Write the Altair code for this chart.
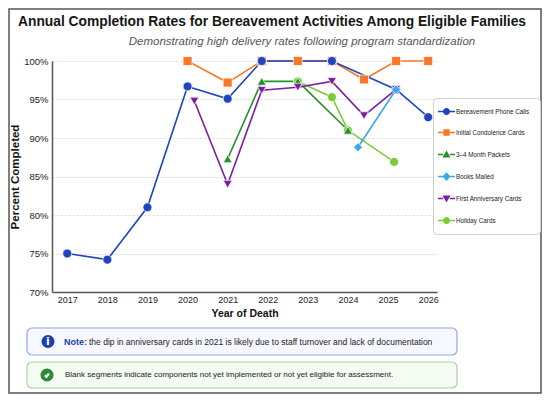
import altair as alt
import pandas as pd

# ---------------- data ----------------
SERIES = [
    "Bereavement Phone Calls",
    "Initial Condolence Cards",
    "3–4 Month Packets",
    "Books Mailed",
    "First Anniversary Cards",
    "Holiday Cards",
]
COLORS = ["#1f44bd", "#f7782a", "#23912a", "#3aa8ee", "#7a1fa2", "#7ccc3a"]
SHAPES = ["circle", "square", "triangle-up", "diamond", "triangle-down", "circle"]

PHONE_YEARS = [2017, 2018, 2019, 2020, 2021, 2021.85, 2023.6, 2025.2, 2026]
PHONE_VALS = [75.0, 74.2, 81.0, 96.7, 95.1, 100, 100, 96.3, 92.7]

CONDOLENCE_YEARS = [2020, 2021, 2021.85, 2022.75, 2023.6, 2024.4, 2025.2, 2026]
CONDOLENCE_VALS = [100, 97.2, 100, 100, 100, 97.6, 100, 100]

PACKET_YEARS = [2021, 2021.85, 2022.75, 2024.0]
PACKET_VALS = [87.3, 97.35, 97.35, 91.0]

BOOK_YEARS = [2024.25, 2025.2]
BOOK_VALS = [88.8, 96.3]

ANNIV_YEARS = [2020.17, 2021, 2021.85, 2022.75, 2023.6, 2024.4, 2025.2]
ANNIV_VALS = [94.8, 84.0, 96.2, 96.6, 97.35, 92.9, 96.3]

HOLIDAY_YEARS = [2022.75, 2023.6, 2024.0, 2025.15]
HOLIDAY_VALS = [97.35, 95.3, 91.0, 86.9]

TICK_YEARS = [2017, 2018, 2019, 2020, 2021, 2022, 2023, 2024, 2025, 2026]
TICK_PCTS = [70, 75, 80, 85, 90, 95, 100]

TITLE = "Annual Completion Rates for Bereavement Activities Among Eligible Families"
SUBTITLE = "Demonstrating high delivery rates following program standardization"
NOTE_BOLD = "Note:"
NOTE_TEXT = "the dip in anniversary cards in 2021 is likely due to staff turnover and lack of documentation"
BLANK_TEXT = "Blank segments indicate components not yet implemented or not yet eligible for assessment."

# drawing order of the series (later = on top)
Z_ORDER = [1, 0, 5, 2, 4, 3]

series_data = [
    (PHONE_YEARS, PHONE_VALS),
    (CONDOLENCE_YEARS, CONDOLENCE_VALS),
    (PACKET_YEARS, PACKET_VALS),
    (BOOK_YEARS, BOOK_VALS),
    (ANNIV_YEARS, ANNIV_VALS),
    (HOLIDAY_YEARS, HOLIDAY_VALS),
]
rows = []
for name, (yrs, vals) in zip(SERIES, series_data):
    for yr, v in zip(yrs, vals):
        rows.append({"series": name, "year": yr, "pct": v})
df = pd.DataFrame(rows)

# ---------------- styling ----------------
F = "Liberation Sans"
W, H = 385, 231

# legend symbols: marker with a short line through it
LINE = "M-2.45,-0.22H-0.95V0.22H-2.45Z M0.95,-0.22H2.45V0.22H0.95Z "
LEG_PATHS = [
    LINE + "M-1,0A1,1 0 1,1 1,0A1,1 0 1,1 -1,0Z",
    LINE + "M-0.9,-0.9H0.9V0.9H-0.9Z",
    LINE + "M0,-1.15L1.15,0.85H-1.15Z",
    LINE + "M0,-1.25L1.15,0L0,1.25L-1.15,0Z",
    LINE + "M0,1.15L1.15,-0.85H-1.15Z",
    LINE + "M-1,0A1,1 0 1,1 1,0A1,1 0 1,1 -1,0Z",
]

x_enc = alt.X(
    "year:Q",
    scale=alt.Scale(domain=[2016.62, 2026.22], nice=False, zero=False),
    axis=alt.Axis(
        values=TICK_YEARS, format="d", title="Year of Death", grid=False,
        ticks=False, domainColor="#555", domainWidth=1.5,
        labelFont=F, labelFontSize=9, labelColor="#222", labelPadding=3,
        titleFont=F, titleFontSize=10.5, titleFontWeight="bold", titleColor="#111",
        titlePadding=4,
    ),
)
y_enc = alt.Y(
    "pct:Q",
    scale=alt.Scale(domain=[70, 100], nice=False, zero=False),
    axis=alt.Axis(
        values=TICK_PCTS, labelExpr="datum.value + '%'", title="Percent Completed",
        grid=True, gridDash=[2, 2], gridColor="#d8d8d8", ticks=False,
        domainColor="#555", domainWidth=1.5,
        labelFont=F, labelFontSize=9.5, labelColor="#222", labelPadding=4,
        titleFont=F, titleFontSize=11.5, titleFontWeight="bold", titleColor="#111",
        titlePadding=3,
    ),
)

line_layers = []
point_layers = []
for i in Z_ORDER:
    sub = alt.Chart(df).transform_filter(alt.datum.series == SERIES[i])
    line_layers.append(
        sub.mark_line(strokeWidth=1.6, color=COLORS[i]).encode(x=x_enc, y=y_enc)
    )
    point_layers.append(
        sub.mark_point(filled=True, shape=SHAPES[i], size=80, opacity=1,
                       fill=COLORS[i], stroke="white", strokeWidth=0.7)
        .encode(x=x_enc, y=y_enc)
    )

LEG = alt.Legend(
    title=None, orient="none", legendX=381, legendY=37, direction="vertical",
    fillColor="white", strokeColor="#cfcfcf", cornerRadius=4, padding=10,
    symbolSize=49, symbolStrokeWidth=0, symbolOpacity=1,
    labelFont=F, labelFontSize=6.3, labelColor="#222", labelOffset=6,
    rowPadding=14,
)
legend_layer = alt.Chart(df).mark_point(filled=True, opacity=0).encode(
    x=x_enc, y=y_enc,
    fill=alt.Fill("series:N", scale=alt.Scale(domain=SERIES, range=COLORS), legend=LEG),
    shape=alt.Shape("series:N", scale=alt.Scale(domain=SERIES, range=LEG_PATHS), legend=LEG),
)

one = pd.DataFrame({"k": [0]})
base1 = alt.Chart(one)

frame = base1.mark_rect(fillOpacity=0, stroke="#555", strokeWidth=1.5).encode(
    x=alt.value(-43), x2=alt.value(489), y=alt.value(-52), y2=alt.value(332)
)
title = base1.mark_text(font=F, fontSize=13.8, fontWeight="bold", color="#161616",
                        align="center", baseline="alphabetic").encode(
    x=alt.value(220), y=alt.value(-35.5), text=alt.value(TITLE)
)
subtitle = base1.mark_text(font=F, fontSize=11.5, fontStyle="italic", color="#555",
                           align="center", baseline="alphabetic").encode(
    x=alt.value(250), y=alt.value(-16), text=alt.value(SUBTITLE)
)

box1 = base1.mark_rect(fill="#f6f7ff", stroke="#97a3e3", strokeWidth=1.2, cornerRadius=5).encode(
    x=alt.value(-25), x2=alt.value(405), y=alt.value(267), y2=alt.value(294)
)
box2 = base1.mark_rect(fill="#f4fbf2", stroke="#a3d69c", strokeWidth=1.2, cornerRadius=5).encode(
    x=alt.value(-25), x2=alt.value(405), y=alt.value(301), y2=alt.value(327)
)
icon1 = base1.mark_point(filled=True, shape="circle", size=170, opacity=1, color="#1b3fae").encode(
    x=alt.value(-4), y=alt.value(280.5)
)
icon1_i = base1.mark_text(font="DejaVu Sans", fontSize=11, fontWeight="bold", color="white",
                          align="center", baseline="middle").encode(
    x=alt.value(-4), y=alt.value(281), text=alt.value("i")
)
icon2 = base1.mark_point(filled=True, shape="circle", size=170, opacity=1, color="#2a8a38").encode(
    x=alt.value(-5), y=alt.value(314)
)
icon2_chk = base1.mark_point(filled=False, shape="M-0.55,0.05L-0.15,0.45L0.55,-0.4", size=60,
                             opacity=1, stroke="white", strokeWidth=2.2).encode(
    x=alt.value(-5), y=alt.value(314)
)
note_bold = base1.mark_text(font=F, fontSize=9, fontWeight="bold", color="#1b3fae",
                            align="left", baseline="middle").encode(
    x=alt.value(12), y=alt.value(280.5), text=alt.value(NOTE_BOLD)
)
note_text = base1.mark_text(font=F, fontSize=8.5, color="#222",
                            align="left", baseline="middle").encode(
    x=alt.value(37), y=alt.value(280.5), text=alt.value(NOTE_TEXT)
)
blank_text = base1.mark_text(font=F, fontSize=8, color="#222",
                             align="left", baseline="middle").encode(
    x=alt.value(13), y=alt.value(314), text=alt.value(BLANK_TEXT)
)

chart = alt.layer(
    frame, *line_layers, *point_layers, legend_layer,
    title, subtitle, box1, box2, icon1, icon1_i, icon2, icon2_chk,
    note_bold, note_text, blank_text,
).properties(
    width=W, height=H,
    autosize=alt.AutoSizeParams(type="none"),
    padding={"left": 44, "top": 53, "right": 534 - 44 - W, "bottom": 386 - 53 - H},
    background="white",
).configure_view(stroke=None)

chart.save("out.html", embed_options={"renderer": "svg", "actions": False})
